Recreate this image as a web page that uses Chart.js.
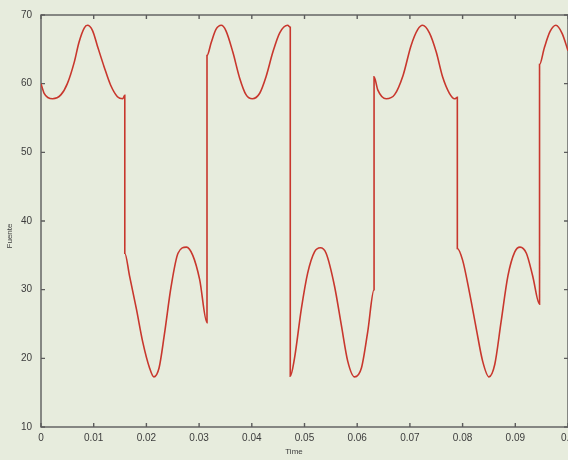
<!DOCTYPE html>
<html>
<head>
<meta charset="utf-8">
<script src="https://cdn.jsdelivr.net/npm/chart.js@4.4.0/dist/chart.umd.min.js"></script>
<style>
  html, body { margin: 0; padding: 0; background: #e7ecdd; overflow: hidden; }
  #wrap { width: 600px; height: 460px; }
</style>
</head>
<body>
<div id="wrap"><canvas id="lineChart" width="600" height="460"></canvas></div>
<script>
// values (jumps are two points at the same time)
const time = [
  0, 0.0006, 0.0022, 0.0038, 0.005, 0.0063, 0.0072, 0.0082, 0.0088, 0.0098, 0.0107, 0.012, 0.0132, 0.0145, 0.0155, 0.0159,
  0.0159, 0.0168, 0.0181, 0.0193, 0.0206, 0.0214, 0.0224, 0.0234, 0.0247, 0.026, 0.0276, 0.0288, 0.0301, 0.0315,
  0.0315, 0.0323, 0.0332, 0.0342, 0.0351, 0.0364, 0.0377, 0.0389, 0.0401, 0.0415, 0.0427, 0.044, 0.0453, 0.0468, 0.0473,
  0.0473, 0.0481, 0.0494, 0.0506, 0.0519, 0.053, 0.0541, 0.0557, 0.057, 0.0582, 0.0595, 0.0608, 0.062, 0.0632,
  0.0632, 0.0639, 0.0655, 0.0671, 0.0687, 0.0702, 0.0715, 0.0724, 0.0737, 0.075, 0.0762, 0.0775, 0.0785, 0.079,
  0.079, 0.08, 0.0813, 0.0826, 0.0838, 0.085, 0.0861, 0.0873, 0.0886, 0.0899, 0.0909, 0.0921, 0.0933, 0.0946,
  0.0946, 0.0955, 0.0966, 0.0977, 0.0989, 0.1
];
const fuente = [
  60.0, 58.6, 57.8, 58.4, 60.0, 63.1, 66.0, 68.1, 68.5, 67.7, 65.5, 62.4, 59.8, 58.1, 57.8, 58.3,
  35.3, 32.0, 27.2, 22.4, 18.6, 17.3, 18.6, 23.4, 30.5, 35.3, 36.2, 35.0, 31.5, 25.2,
  64.1, 66.0, 67.9, 68.5, 67.7, 64.6, 60.8, 58.4, 57.8, 58.6, 61.0, 64.6, 67.4, 68.5, 68.2,
  17.4, 20.0, 27.2, 32.4, 35.5, 36.1, 35.3, 30.5, 24.8, 19.6, 17.3, 18.6, 23.9, 30.0,
  61.0, 59.1, 57.8, 58.4, 61.2, 65.5, 67.9, 68.5, 67.4, 64.6, 61.0, 58.6, 57.8, 58.0,
  36.0, 34.3, 29.6, 24.3, 19.6, 17.3, 19.1, 25.3, 32.0, 35.5, 36.2, 35.3, 32.0, 27.9,
  62.8, 65.2, 67.6, 68.5, 67.3, 64.8
];
const xTicks = [0, 0.01, 0.02, 0.03, 0.04, 0.05, 0.06, 0.07, 0.08, 0.09, 0.1];
const yTicks = [10, 20, 30, 40, 50, 60, 70];

const axisColor = "#5c5c5c";
const labelColor = "#3c3c3c";

// box around the plot with short inward tick marks
const frame = {
  id: "frame",
  beforeDatasetsDraw(chart) {
    const { ctx, chartArea: a, scales } = chart;
    ctx.save();
    ctx.strokeStyle = axisColor;
    ctx.lineWidth = 1.4;
    ctx.strokeRect(a.left, a.top, a.right - a.left, a.bottom - a.top);
    ctx.beginPath();
    xTicks.forEach((v) => {
      const px = scales.x.getPixelForValue(v);
      ctx.moveTo(px, a.bottom); ctx.lineTo(px, a.bottom - 4);
      ctx.moveTo(px, a.top); ctx.lineTo(px, a.top + 4);
    });
    yTicks.forEach((v) => {
      const py = scales.y.getPixelForValue(v);
      ctx.moveTo(a.left, py); ctx.lineTo(a.left + 4, py);
      ctx.moveTo(a.right, py); ctx.lineTo(a.right - 4, py);
    });
    ctx.stroke();
    ctx.restore();
  },
  afterDraw(chart) {
    const { ctx } = chart;
    ctx.save();
    ctx.fillStyle = labelColor;
    ctx.font = '8px "Liberation Sans"';
    ctx.textAlign = "center";
    ctx.textBaseline = "middle";
    ctx.fillText("Time", 294, 452);
    ctx.translate(10, 236);
    ctx.rotate(-Math.PI / 2);
    ctx.fillText("Fuente", 0, 0);
    ctx.restore();
  }
};

const ctx = document.getElementById("lineChart");
new Chart(ctx, {
  type: "line",
  data: {
    datasets: [
      {
        label: "Fuente",
        data: time.map((t, i) => ({ x: t, y: fuente[i] })),
        borderColor: "#c8372d",
        borderWidth: 1.6,
        pointRadius: 0,
        fill: false,
        cubicInterpolationMode: "monotone",
      },
    ],
  },
  options: {
    responsive: false,
    animation: false,
    devicePixelRatio: 1,
    layout: { padding: { top: 7, right: 32, bottom: 0, left: 0 } },
    plugins: { legend: { display: false }, tooltip: { enabled: false } },
    scales: {
      x: {
        type: "linear",
        min: 0,
        max: 0.1,
        afterBuildTicks: (s) => { s.ticks = xTicks.map((v) => ({ value: v })); },
        afterFit: (s) => { s.height = 33; },
        grid: { display: false, drawTicks: false },
        border: { display: false },
        ticks: {
          autoSkip: false,
          maxRotation: 0,
          padding: 5,
          color: labelColor,
          font: { family: "Liberation Sans", size: 10 },
          callback: (v) => String(v),
        },
      },
      y: {
        min: 10,
        max: 70,
        afterBuildTicks: (s) => { s.ticks = yTicks.map((v) => ({ value: v })); },
        afterFit: (s) => { s.width = 41; },
        grid: { display: false, drawTicks: false },
        border: { display: false },
        ticks: {
          padding: 9,
          color: labelColor,
          font: { family: "Liberation Sans", size: 10 },
        },
      },
    },
  },
  plugins: [frame],
});
</script>
</body>
</html>
